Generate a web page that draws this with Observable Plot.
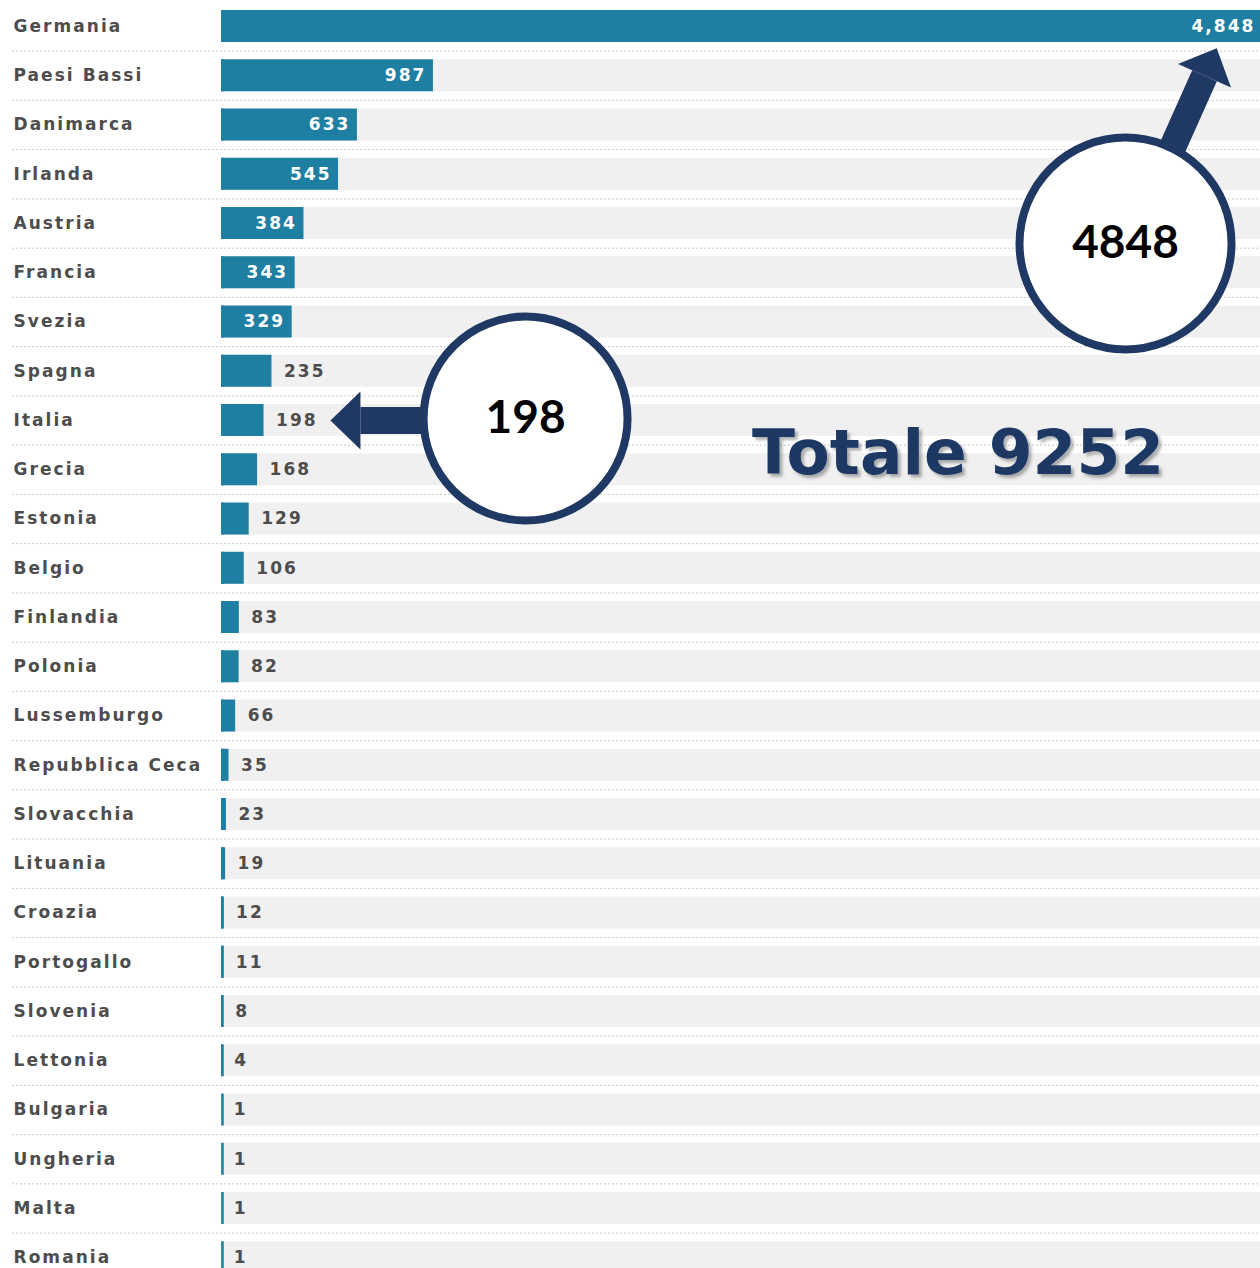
<!DOCTYPE html>
<html><head><meta charset="utf-8">
<script src="https://cdn.jsdelivr.net/npm/d3@7"></script>
<script src="https://cdn.jsdelivr.net/npm/@observablehq/plot@0.6"></script>
<style>
html,body{margin:0;padding:0;background:#fff;overflow:hidden}
g[font-size="17"] text{letter-spacing:2.05px}
</style></head><body><div id="chart"></div>
<script>
const countries = ["Germania","Paesi Bassi","Danimarca","Irlanda","Austria","Francia","Svezia","Spagna","Italia","Grecia","Estonia","Belgio","Finlandia","Polonia","Lussemburgo","Repubblica Ceca","Slovacchia","Lituania","Croazia","Portogallo","Slovenia","Lettonia","Bulgaria","Ungheria","Malta","Romania"];
const values = [4848,987,633,545,384,343,329,235,198,168,129,106,83,82,66,35,23,19,12,11,8,4,1,1,1,1];
const maxValue = 4848;
const totalLabel = "Totale 9252";
// callouts (data space: x value, y country)
const callouts = [
  {label:"198", x:1416, y:"Italia"},
  {label:"4848", x:4210, y:"Austria"}
];
const arrows = [
  {x1:1020, y1:"Italia", x2:647, y2:"Italia", angle:-90},
  {x1:4373, y1:"Irlanda", x2:4578, y2:"Paesi Bassi", angle:24}
];
const totalPos = {x:3430, y:"Grecia"};

const data = countries.map((c,i)=>({country:c, value:values[i]}));
const teal = "#1e7fa2", navy = "#1f3864", grayBg = "#f0f0f0", labelCol = "#4d4d4d";
const fmt = d3.format(",");
const inside = d => d.value >= 300;
const arrowHead = {draw(ctx){ ctx.moveTo(0,-30); ctx.lineTo(29,0); ctx.lineTo(-29,0); ctx.closePath(); }};

const chart = Plot.plot({
  width: 1260, height: 1268,
  marginLeft: 12, marginRight: 0, marginTop: 0, marginBottom: 0,
  x: {domain:[0,maxValue], range:[221,1262], axis:null},
  y: {domain:countries, range:[1.4,1281.9], paddingInner:0.35, paddingOuter:0.175, round:false, axis:null},
  marks: [
    Plot.ruleY(countries.slice(0,-1), {y:d=>d, dy:24.6, stroke:"#c8c8c8", strokeDasharray:"2,2"}),
    Plot.barX(data, {y:"country", x1:0, x2:maxValue, fill:grayBg}),
    Plot.barX(data, {y:"country", x1:0, x2:"value", fill:teal}),
    Plot.tickX(data, {y:"country", x:0, dx:1, stroke:teal, strokeWidth:2.5}),
    Plot.text(data, {y:"country", text:"country", frameAnchor:"left", textAnchor:"start", dx:1, fontSize:17, fontFamily:"DejaVu Sans", fontWeight:"bold", fill:labelCol}),
    Plot.text(data.filter(inside), {x:"value", y:"country", text:d=>fmt(d.value), textAnchor:"end", dx:-7, fontSize:17, fontFamily:"DejaVu Sans", fontWeight:"bold", fill:"#ffffff"}),
    Plot.text(data.filter(d=>!inside(d)), {x:"value", y:"country", text:d=>fmt(d.value), textAnchor:"start", dx:12, fontSize:17, fontFamily:"DejaVu Sans", fontWeight:"bold", fill:labelCol}),
    Plot.text([totalPos], {x:"x", y:"y", text:[totalLabel], dy:-16, fontSize:63, fontFamily:"DejaVu Sans", fontWeight:"bold", fill:navy}),
    Plot.link(arrows, {x1:"x1", y1:"y1", x2:"x2", y2:"y2", stroke:navy, strokeWidth:27, strokeLinecap:"butt"}),
    Plot.dot(arrows, {x:"x2", y:"y2", symbol:arrowHead, rotate:"angle", fill:navy, stroke:"none"}),
    Plot.dot([callouts[0]], {x:"x", y:"y", dy:-2, r:102, fill:"white", stroke:navy, strokeWidth:8}),
    Plot.dot([callouts[1]], {x:"x", y:"y", dy:20, r:106, fill:"white", stroke:navy, strokeWidth:8}),
    Plot.text([callouts[0]], {x:"x", y:"y", text:"label", dy:-2, fontSize:46, fontFamily:"Lato", fontWeight:"bold", fill:"#000"}),
    Plot.text([callouts[1]], {x:"x", y:"y", text:"label", dy:20, fontSize:46, fontFamily:"Lato", fontWeight:"bold", fill:"#000"})
  ]
});
const svg = d3.select(chart);
svg.append("defs").html('<filter id="tshadow" x="-5%" y="-20%" width="115%" height="150%"><feDropShadow dx="3" dy="3" stdDeviation="1.5" flood-color="#000" flood-opacity="0.3"/></filter>');
svg.selectAll('g[font-size="63"]').attr("filter","url(#tshadow)");
document.getElementById("chart").append(chart);
</script></body></html>
